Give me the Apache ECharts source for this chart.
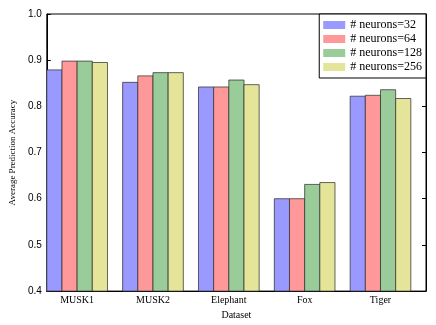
<!DOCTYPE html>
<html>
<head>
<meta charset="utf-8">
<script src="https://cdn.jsdelivr.net/npm/echarts@6/dist/echarts.min.js"></script>
<style>
  html, body { margin: 0; padding: 0; background: #fff; }
  #chart { width: 436px; height: 325px; }
</style>
</head>
<body>
<div id="chart"></div>
<script>
// data
const datasets = ['MUSK1', 'MUSK2', 'Elephant', 'Fox', 'Tiger'];
const neurons32 = [0.879, 0.852, 0.842, 0.600, 0.822];
const neurons64 = [0.898, 0.866, 0.842, 0.600, 0.824];
const neurons128 = [0.898, 0.873, 0.857, 0.631, 0.836];
const neurons256 = [0.895, 0.873, 0.847, 0.635, 0.817];
const seriesNames = ['# neurons=32', '# neurons=64', '# neurons=128', '# neurons=256'];

const colors = ['#9999ff', '#ff9999', '#99cc99', '#e5e599'];
const BAR_W = 0.2;
const Y_MIN = 0.4;

const allValues = [neurons32, neurons64, neurons128, neurons256];

function makeSeries(idx) {
  return {
    name: seriesNames[idx],
    type: 'custom',
    itemStyle: { color: colors[idx] },
    data: allValues[idx].map((v, i) => [i + idx * BAR_W, v]),
    renderItem: (params, api) => {
      const x = api.value(0);
      const v = api.value(1);
      const p0 = api.coord([x, v]);
      const p1 = api.coord([x + BAR_W, Y_MIN]);
      return {
        type: 'rect',
        shape: { x: p0[0], y: p0[1], width: p1[0] - p0[0], height: p1[1] - p0[1] },
        style: { fill: colors[idx], stroke: 'rgba(50,50,50,0.75)', lineWidth: 1 }
      };
    }
  };
}

const chart = echarts.init(document.getElementById('chart'), null, { renderer: 'canvas' });
chart.setOption({
  animation: false,
  backgroundColor: '#fff',
  grid: { left: 39, right: 10, top: 14, bottom: 33, show: true, borderColor: '#000', borderWidth: 1 },
  legend: {
    orient: 'vertical',
    right: 10,
    top: 14,
    data: seriesNames,
    icon: 'rect',
    itemWidth: 22,
    itemHeight: 8,
    itemGap: 2,
    padding: [5, 4, 5, 4],
    borderColor: '#000',
    borderWidth: 1,
    backgroundColor: '#fff',
    textStyle: { fontFamily: 'Liberation Serif', fontSize: 12, color: '#000' }
  },
  xAxis: {
    type: 'value',
    min: 0,
    max: 5,
    name: 'Dataset',
    nameLocation: 'middle',
    nameGap: 18,
    nameTextStyle: { fontFamily: 'Liberation Serif', fontSize: 10, color: '#000' },
    axisLine: { show: true, lineStyle: { color: '#000' } },
    axisTick: { show: false },
    splitLine: { show: false },
    axisLabel: {
      customValues: datasets.map((d, i) => i + 2 * BAR_W),
      formatter: (v) => datasets[Math.round(v - 2 * BAR_W)],
      fontFamily: 'Liberation Serif',
      fontSize: 10,
      color: '#000',
      margin: 4
    }
  },
  yAxis: [{
    type: 'value',
    min: Y_MIN,
    max: 1.0,
    interval: 0.1,
    name: 'Average Prediction Accuracy',
    nameLocation: 'middle',
    nameGap: 27,
    nameTextStyle: { fontFamily: 'Liberation Serif', fontSize: 9, color: '#000' },
    axisLine: { show: true, lineStyle: { color: '#000' } },
    axisTick: { show: true, inside: true, length: 4, lineStyle: { color: '#000' } },
    splitLine: { show: false },
    axisLabel: {
      formatter: (v) => v.toFixed(1),
      fontFamily: 'Liberation Sans',
      fontSize: 10,
      color: '#000',
      margin: 5
    }
  }, {
    type: 'value',
    position: 'right',
    min: Y_MIN,
    max: 1.0,
    interval: 0.1,
    axisLine: { show: true, lineStyle: { color: '#000' } },
    axisTick: { show: true, inside: true, length: 4, lineStyle: { color: '#000' } },
    axisLabel: { show: false },
    splitLine: { show: false }
  }],
  series: [0, 1, 2, 3].map(makeSeries)
});
</script>
</body>
</html>
